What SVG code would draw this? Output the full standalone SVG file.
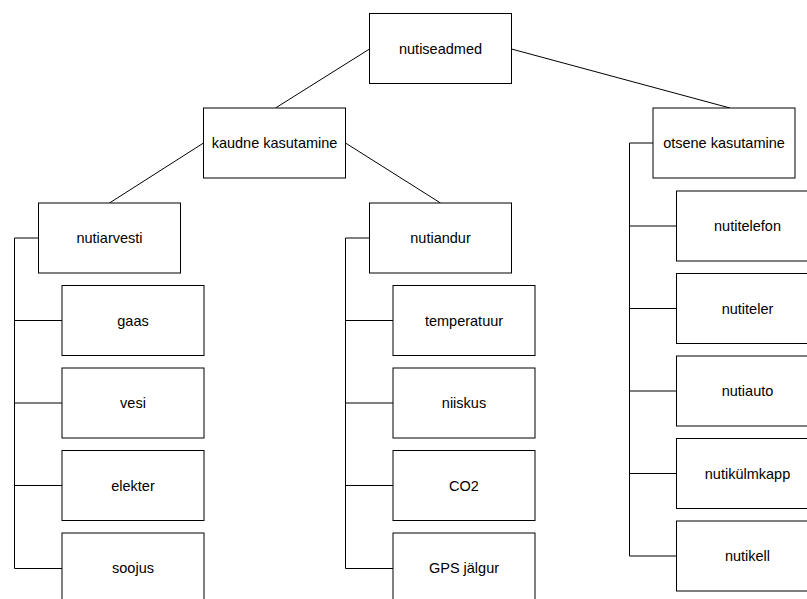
<svg xmlns="http://www.w3.org/2000/svg" width="807" height="599" viewBox="0 0 807 599">
  <style>
    .box rect { fill: #ffffff; stroke: #000000; stroke-width: 1; }
    .box text { font-family: "Liberation Sans", Arial, sans-serif; font-size: 14.5px; fill: #000000; text-anchor: middle; }
    #edges path { fill: none; stroke: #000000; stroke-width: 1; }
  </style>
  <rect width="807" height="599" fill="#ffffff"/>

  <!-- connectors -->
  <g id="edges">
    <path d="M369.5 49 L275.5 108"/>
    <path d="M511.5 49 L730 108"/>
    <path d="M203.5 143 L109.5 203"/>
    <path d="M345.5 143 L440.5 203"/>
    <!-- nutiarvesti tree -->
    <path d="M38.5 238 H14.5 V568.5 H62"/>
    <path d="M14.5 320.5 H62"/>
    <path d="M14.5 403 H62"/>
    <path d="M14.5 485.5 H62"/>
    <!-- nutiandur tree -->
    <path d="M369.5 238 H345.5 V568.5 H393"/>
    <path d="M345.5 320.5 H393"/>
    <path d="M345.5 403 H393"/>
    <path d="M345.5 485.5 H393"/>
    <!-- otsene kasutamine tree -->
    <path d="M653 143 H629.5 V556 H676.5"/>
    <path d="M629.5 226 H676.5"/>
    <path d="M629.5 308.5 H676.5"/>
    <path d="M629.5 391 H676.5"/>
    <path d="M629.5 473.5 H676.5"/>
  </g>

  <g id="nutiseadmed" class="box"><rect x="369.5" y="13.5" width="142" height="70"/><text x="440.5" y="53.5">nutiseadmed</text></g>
  <g id="kaudne" class="box"><rect x="203.5" y="108" width="142" height="70"/><text x="274.5" y="148">kaudne kasutamine</text></g>
  <g id="otsene" class="box"><rect x="653" y="108" width="142" height="70"/><text x="724" y="148">otsene kasutamine</text></g>

  <g id="nutiarvesti" class="box"><rect x="38.5" y="203" width="142" height="70"/><text x="109.5" y="243">nutiarvesti</text></g>
  <g id="gaas" class="box"><rect x="62" y="285.5" width="142" height="70"/><text x="133" y="325.5">gaas</text></g>
  <g id="vesi" class="box"><rect x="62" y="368" width="142" height="70"/><text x="133" y="408">vesi</text></g>
  <g id="elekter" class="box"><rect x="62" y="450.5" width="142" height="70"/><text x="133" y="490.5">elekter</text></g>
  <g id="soojus" class="box"><rect x="62" y="533" width="142" height="70"/><text x="133" y="573">soojus</text></g>

  <g id="nutiandur" class="box"><rect x="369.5" y="203" width="142" height="70"/><text x="440.5" y="243">nutiandur</text></g>
  <g id="temperatuur" class="box"><rect x="393" y="285.5" width="142" height="70"/><text x="464" y="325.5">temperatuur</text></g>
  <g id="niiskus" class="box"><rect x="393" y="368" width="142" height="70"/><text x="464" y="408">niiskus</text></g>
  <g id="co2" class="box"><rect x="393" y="450.5" width="142" height="70"/><text x="464" y="490.5">CO2</text></g>
  <g id="gps" class="box"><rect x="393" y="533" width="142" height="70"/><text x="464" y="573">GPS jälgur</text></g>

  <g id="nutitelefon" class="box"><rect x="676.5" y="191" width="142" height="70"/><text x="747.5" y="231">nutitelefon</text></g>
  <g id="nutiteler" class="box"><rect x="676.5" y="273.5" width="142" height="70"/><text x="747.5" y="313.5">nutiteler</text></g>
  <g id="nutiauto" class="box"><rect x="676.5" y="356" width="142" height="70"/><text x="747.5" y="396">nutiauto</text></g>
  <g id="nutikylmkapp" class="box"><rect x="676.5" y="438.5" width="142" height="70"/><text x="747.5" y="478.5">nutikülmkapp</text></g>
  <g id="nutikell" class="box"><rect x="676.5" y="521" width="142" height="70"/><text x="747.5" y="561">nutikell</text></g>
</svg>
